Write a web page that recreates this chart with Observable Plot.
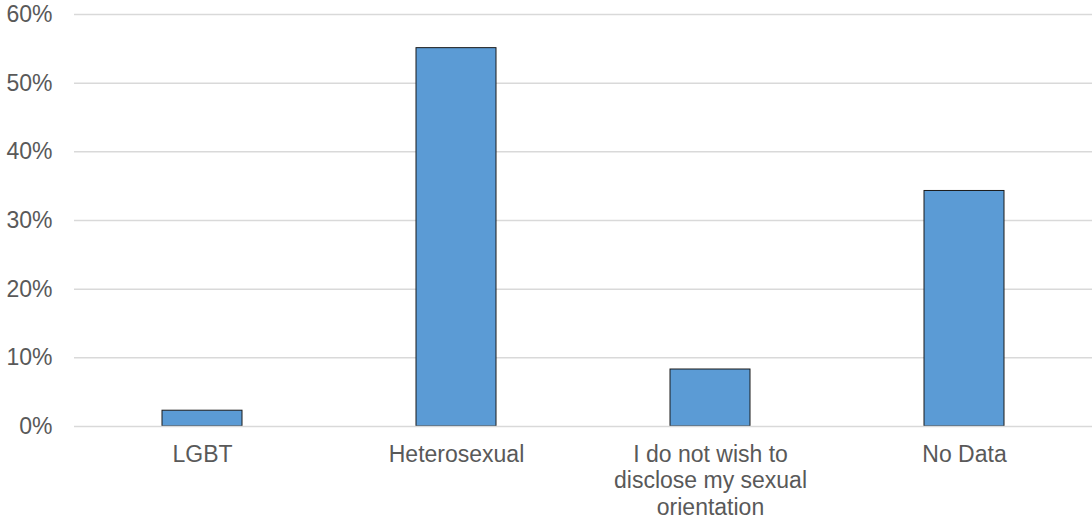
<!DOCTYPE html>
<html>
<head>
<meta charset="utf-8">
<script src="https://cdn.jsdelivr.net/npm/d3@7"></script>
<script src="https://cdn.jsdelivr.net/npm/@observablehq/plot@0.6"></script>
<style>
  html, body { margin: 0; padding: 0; background: #fff; }
  #chart svg { display: block; }
</style>
</head>
<body>
<div id="chart"></div>
<script>
// Share of respondents by sexual orientation (percent)
const categories = ["LGBT", "Heterosexual", "I do not wish to disclose my sexual orientation", "No Data"];
const shares = [2.3, 55.1, 8.3, 34.3];
const tickLabels = ["LGBT", "Heterosexual", "I do not wish to\ndisclose my sexual\norientation", "No Data"];
const yTicks = [0, 10, 20, 30, 40, 50, 60];

const rows = categories.map((c, i) => ({category: c, share: shares[i]}));
const labelOf = new Map(categories.map((c, i) => [c, tickLabels[i]]));

const chart = Plot.plot({
  width: 1092,
  height: 519,
  marginLeft: 74,
  marginRight: 0,
  marginTop: 14,
  marginBottom: 93,
  style: {fontFamily: "Liberation Sans, Arial, sans-serif", fontSize: "23px", color: "#595959", background: "#fff"},
  x: {domain: categories, paddingInner: 0.6857, paddingOuter: 0.3429, label: null},
  y: {domain: [0, 60], label: null},
  marks: [
    Plot.gridY(yTicks.filter(d => d > 0), {stroke: "#d9d9d9", strokeOpacity: 1, strokeWidth: 1.5}),
    Plot.barY(rows, {x: "category", y: "share", fill: "#5b9bd5", stroke: "#1a1a1a", strokeWidth: 1}),
    Plot.ruleY([0], {stroke: "#d9d9d9", strokeWidth: 1.5}),
    Plot.axisY({ticks: yTicks, tickSize: 0, tickPadding: 22, tickFormat: d => `${d}%`, fill: "#595959", fontSize: 23}),
    Plot.axisX({tickSize: 0, tickPadding: 17, tickFormat: d => labelOf.get(d), lineHeight: 1.14, fill: "#595959", fontSize: 23})
  ]
});
document.getElementById("chart").append(chart);
</script>
</body>
</html>
